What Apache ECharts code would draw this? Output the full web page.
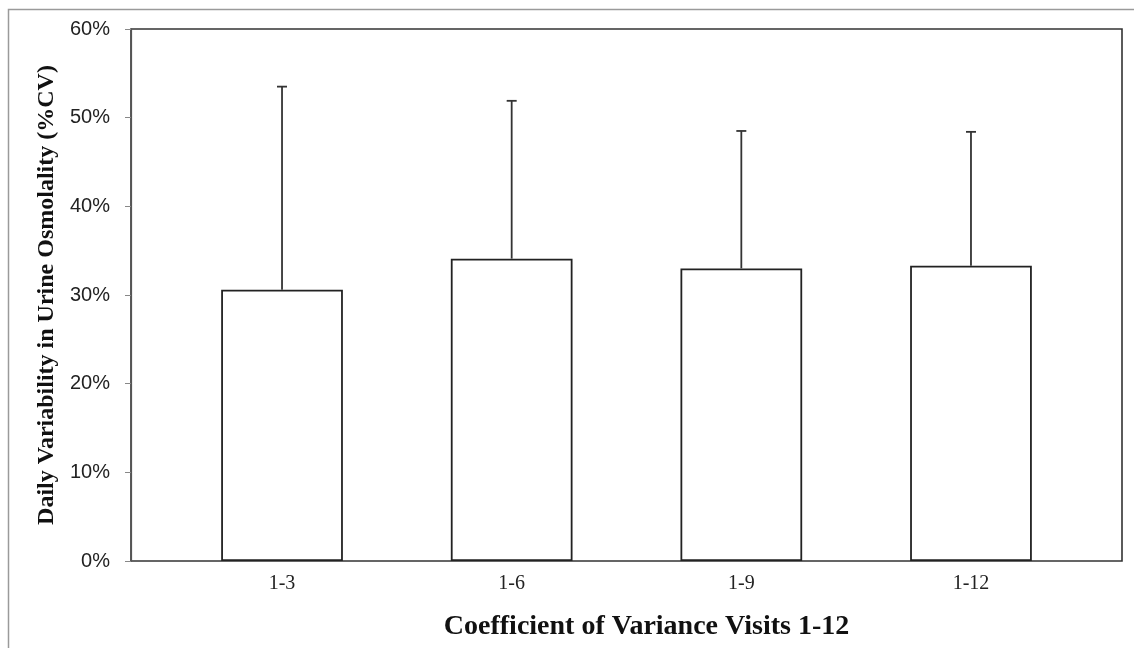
<!DOCTYPE html>
<html>
<head>
<meta charset="utf-8">
<script src="https://cdn.jsdelivr.net/npm/echarts@6/dist/echarts.min.js"></script>
<style>
html,body{margin:0;padding:0;background:#fff;}
#chart{width:1134px;height:648px;}
</style>
</head>
<body>
<div id="chart"></div>
<script>
// Data
const categories = ['1-3', '1-6', '1-9', '1-12'];
const meanCV = [30.6, 34.1, 33.0, 33.3];      // bar heights (%)
const sdCV = [22.9, 17.8, 15.5, 15.1];        // upper error bar lengths (%)
const yTicks = [0, 10, 20, 30, 40, 50, 60];   // y tick labels (%)

const chart = echarts.init(document.getElementById('chart'));

const errorData = categories.map((c, i) => [i, meanCV[i], meanCV[i] + sdCV[i]]);

const option = {
  animation: false,
  backgroundColor: '#fff',
  graphic: [{
    type: 'rect',
    shape: { x: 8.5, y: 9.5, width: 1140, height: 660 },
    style: { fill: 'none', stroke: '#9a9a9a', lineWidth: 1.5 },
    silent: true, z: -10
  }],
  grid: [
    { // frame / y-axis grid
      left: 131, right: 12, top: 29, bottom: 87,
      show: true, borderColor: '#333', borderWidth: 1.6, backgroundColor: 'transparent'
    },
    { // data grid
      left: 167.2, right: 48.2, top: 29, bottom: 87, show: false
    }
  ],
  xAxis: [
    {
      gridIndex: 0, type: 'category', data: categories,
      show: false
    },
    {
      gridIndex: 1, type: 'category', data: categories,
      axisLine: { show: false }, axisTick: { show: false },
      axisLabel: {
        margin: 13, fontSize: 20, color: '#222',
        fontFamily: '"Liberation Serif", "Times New Roman", serif'
      },
      name: 'Coefficient of Variance Visits 1-12',
      nameLocation: 'middle', nameGap: 52,
      nameTextStyle: {
        fontSize: 28, fontWeight: 'bold', color: '#111',
        fontFamily: '"Liberation Serif", "Times New Roman", serif',
        padding: [0, 0, 0, 40]
      }
    }
  ],
  yAxis: [
    {
      gridIndex: 0, type: 'value', min: yTicks[0], max: yTicks[yTicks.length - 1], interval: 10,
      axisLine: { show: true, lineStyle: { color: '#555', width: 1.2 } },
      axisTick: { show: true, inside: false, length: 6, lineStyle: { color: '#888' } },
      splitLine: { show: false },
      axisLabel: {
        formatter: '{value}%', margin: 21, fontSize: 20, color: '#222',
        fontFamily: '"Liberation Sans", Arial, sans-serif'
      },
      name: 'Daily Variability in Urine Osmolality (%CV)',
      nameLocation: 'middle', nameGap: 70, nameRotate: 90,
      nameTextStyle: {
        fontSize: 24, fontWeight: 'bold', color: '#111',
        fontFamily: '"Liberation Serif", "Times New Roman", serif'
      }
    },
    {
      gridIndex: 1, type: 'value', min: 0, max: 60, interval: 10, show: false
    }
  ],
  series: [
    {
      type: 'bar', xAxisIndex: 1, yAxisIndex: 1,
      data: meanCV, barWidth: '53%',
      itemStyle: { color: '#fff', borderColor: '#222', borderWidth: 1.8 },
      z: 3
    },
    {
      type: 'custom', xAxisIndex: 1, yAxisIndex: 1,
      data: errorData,
      z: 4,
      renderItem: function (params, api) {
        const base = api.coord([api.value(0), api.value(1)]);
        const top = api.coord([api.value(0), api.value(2)]);
        const cap = 5;
        const st = { stroke: '#333', lineWidth: 1.8 };
        return {
          type: 'group',
          children: [
            { type: 'line', shape: { x1: base[0], y1: base[1], x2: top[0], y2: top[1] }, style: st },
            { type: 'line', shape: { x1: top[0] - cap, y1: top[1], x2: top[0] + cap, y2: top[1] }, style: st }
          ]
        };
      }
    }
  ]
};
chart.setOption(option);
</script>
</body>
</html>
